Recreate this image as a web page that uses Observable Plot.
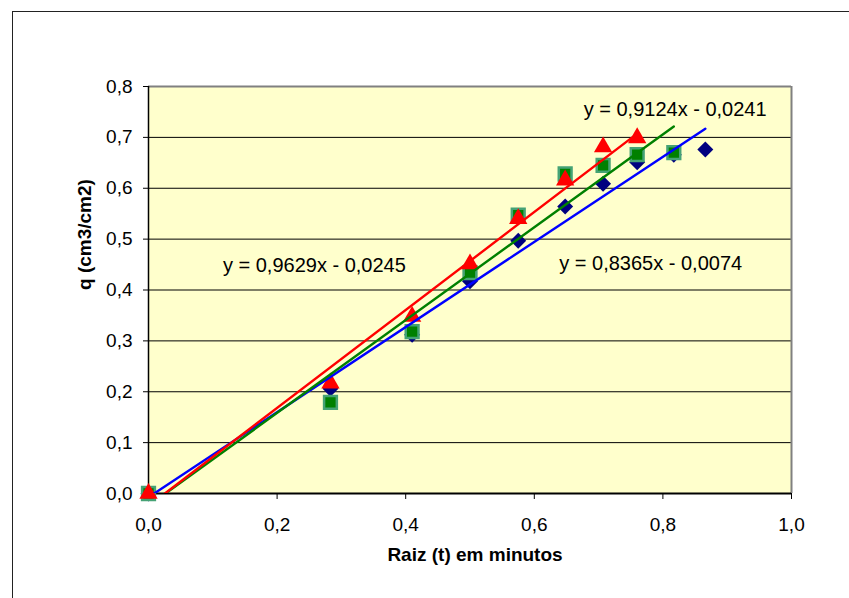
<!DOCTYPE html>
<html>
<head>
<meta charset="utf-8">
<script src="https://cdn.jsdelivr.net/npm/d3@7"></script>
<script src="https://cdn.jsdelivr.net/npm/@observablehq/plot@0.6"></script>
<style>
  html, body { margin: 0; padding: 0; background: #fff; overflow: hidden; }
  #wrap { position: relative; width: 849px; height: 598px; overflow: hidden; }
  #frame { position: absolute; left: 12px; top: 11px; width: 900px; height: 700px; border: 1px solid #222; box-sizing: border-box; }
  #chart { position: absolute; left: 0; top: 0; }
</style>
</head>
<body>
<div id="wrap"><div id="frame"></div><div id="chart"></div></div>
<script>
// Raiz (t) em minutos
const xRaiz = [0, 0.283, 0.41, 0.5, 0.575, 0.648, 0.707, 0.76, 0.817, 0.866];
// Series (q, cm3/cm2)
const qAzul = [0, 0.206, 0.312, 0.417, 0.497, 0.564, 0.609, 0.651, 0.666, 0.676];
const qVerde = [0, 0.179, 0.318, 0.434, 0.547, 0.628, 0.645, 0.666, 0.670];
const qVermelho = [0, 0.217, 0.348, 0.451, 0.540, 0.616, 0.681, 0.699];
// Trendline equations
const seriesNames = ["azul", "verde", "vermelho"];
const eqSlope = [0.8365, 0.9124, 0.9629];
const eqIntercept = [-0.0074, -0.0241, -0.0245];
const eqLabels = ["y = 0,8365x - 0,0074", "y = 0,9124x - 0,0241", "y = 0,9629x - 0,0245"];
// Axis ticks
const xTicks = [0, 0.2, 0.4, 0.6, 0.8, 1.0];
const yTicks = [0, 0.1, 0.2, 0.3, 0.4, 0.5, 0.6, 0.7, 0.8];

const seriesValues = [qAzul, qVerde, qVermelho];
const points = seriesNames.map((s, i) => seriesValues[i].map((q, j) => ({serie: s, x: xRaiz[j], q})));
const trend = seriesNames.map((s, i) => {
  const xs = [0, xRaiz[seriesValues[i].length - 1]];
  return xs.map(x => ({serie: s, x, q: eqSlope[i] * x + eqIntercept[i]}));
});
const fmt = d => d.toFixed(1).replace(".", ",");
const font = "Arial, 'Liberation Sans', sans-serif";

const chart = Plot.plot({
  width: 849,
  height: 598,
  marginLeft: 148,
  marginRight: 58,
  marginTop: 86,
  marginBottom: 105,
  style: {fontFamily: font, fontSize: "19px", background: "transparent", color: "#000", overflow: "visible"},
  x: {domain: [0, 1]},
  y: {domain: [0, 0.8]},
  marks: [
    Plot.frame({fill: "#FFFFCC", stroke: null}),
    Plot.gridY(yTicks.slice(1, -1), {stroke: "#000", strokeOpacity: 1, strokeWidth: 1}),
    Plot.ruleY([0.8], {stroke: "#808080", strokeWidth: 2}),
    Plot.ruleX([1], {stroke: "#808080", strokeWidth: 2}),
    Plot.ruleX([0], {stroke: "#000", strokeWidth: 1.5}),
    Plot.ruleY([0], {stroke: "#000", strokeWidth: 2}),
    Plot.axisX(xTicks, {tickFormat: fmt, tickSize: 6, tickPadding: 18, label: null, fontSize: 19}),
    Plot.axisY(yTicks, {tickFormat: fmt, tickSize: 5, tickPadding: 11, label: null, fontSize: 19}),
    Plot.text(["Raiz (t) em minutos"], {frameAnchor: "bottom", dx: 5, dy: 67, fontWeight: "bold", fontSize: 19}),
    Plot.text(["q (cm3/cm2)"], {frameAnchor: "left", dx: -64, rotate: -90, fontWeight: "bold", fontSize: 19}),
    Plot.dot(points[0], {x: "x", y: "q", symbol: "diamond2", r: 7.2, fill: "#000080", stroke: null}),
    Plot.dot(points[1], {x: "x", y: "q", symbol: "square", r: 7.2, fill: "#008000", stroke: "#45a275", strokeWidth: 2.5}),
    Plot.dot(points[2], {x: "x", y: "q", symbol: "triangle", r: 6.8, fill: "#FF0000", stroke: null}),
    Plot.line(trend[0], {x: "x", y: "q", stroke: "#0000FF", strokeWidth: 2.4, clip: true}),
    Plot.line(trend[1], {x: "x", y: "q", stroke: "#008000", strokeWidth: 2.4, clip: true}),
    Plot.line(trend[2], {x: "x", y: "q", stroke: "#FF0000", strokeWidth: 2.4, clip: true}),
    Plot.text([eqLabels[0]], {x: 0.781, y: 0.452, fontSize: 20, fill: "#000"}),
    Plot.text([eqLabels[1]], {x: 0.819, y: 0.755, fontSize: 20, fill: "#000"}),
    Plot.text([eqLabels[2]], {x: 0.258, y: 0.448, fontSize: 20, fill: "#000"})
  ]
});
document.getElementById("chart").appendChild(chart);
</script>
</body>
</html>
